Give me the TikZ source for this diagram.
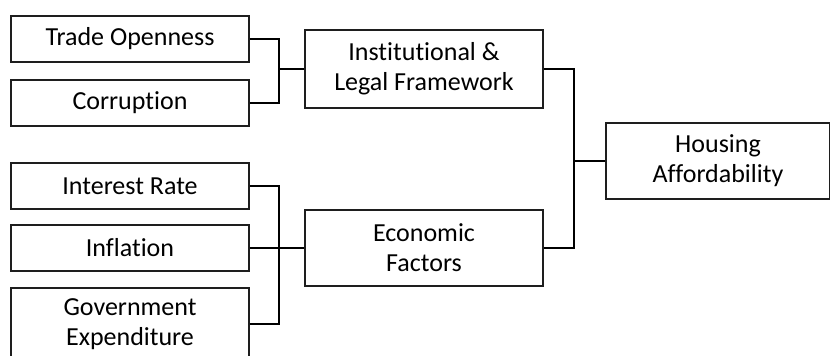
\documentclass[tikz,border=0pt]{standalone}
\usepackage{fontspec}
\setmainfont{Carlito}[Ligatures=NoCommon]
\usetikzlibrary{positioning}
\definecolor{LineGray}{RGB}{30,30,30}
\tikzset{
  box/.style={draw=LineGray,line width=1.4pt,fill=white,align=center,inner sep=0pt,
    font=\fontsize{26}{30}\selectfont,text=black},
  link/.style={draw=black,line width=2.4pt},
}
\begin{document}
\begin{tikzpicture}[x=1pt,y=-1pt,
    leaf/.style={box,minimum width=238pt,minimum height=46pt},
    mid/.style={box,minimum width=238pt,minimum height=78pt}]
  \useasboundingbox (0,0) rectangle (830,356);
  % drivers on the left
  \node[leaf] (trade) at (130,39) {Trade Openness};
  \node[leaf] (corr) at (130,103) {Corruption};
  \node[leaf] (rate) at (130,186) {Interest Rate};
  \node[leaf] (infl) at (130,248) {Inflation};
  \node[leaf,minimum height=72pt] (gov) at (130,324) {Government\\Expenditure};
  % groups
  \node[mid] (inst) at (424,69) {Institutional \&\\Legal Framework};
  \node[mid,minimum height=76pt] (econ) at (424,248) {Economic\\Factors};
  % outcome
  \node[box,minimum width=224pt,minimum height=76pt] (house) at (718,161) {Housing\\Affordability};
  % joints
  \coordinate (j1) at (279,69);
  \coordinate (j2) at (279,248);
  \coordinate (j3) at (574,161);
  \draw[link] (trade.east) -| (j1) |- (corr.east);
  \draw[link] (j1) -- (inst.west);
  \draw[link] (rate.east) -| (j2) |- (gov.east);
  \draw[link] (infl.east) -- (econ.west);
  \draw[link] (inst.east) -| (j3) |- (econ.east);
  \draw[link] (j3) -- (house.west);
\end{tikzpicture}
\end{document}
